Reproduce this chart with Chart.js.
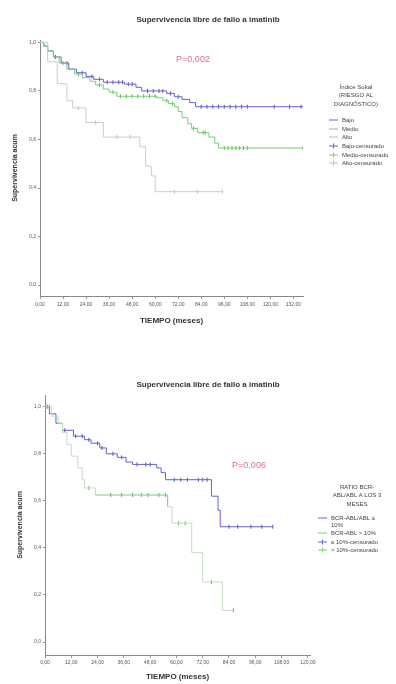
<!DOCTYPE html>
<html>
<head>
<meta charset="utf-8">
<script src="https://cdn.jsdelivr.net/npm/chart.js@4"></script>
<style>
  body { margin: 0; background: #fff; width: 396px; height: 684px; overflow: hidden; }
  .box { position: absolute; left: 0; width: 396px; }
</style>
</head>
<body>
<div class="box" style="top:0;height:340px"><canvas id="km1"></canvas></div>
<div class="box" style="top:340px;height:344px"><canvas id="km2"></canvas></div>
<script>
// 共通の目盛り
const y_ticks = [0, 0.2, 0.4, 0.6, 0.8, 1.0];
const y_labels = ['0,0', '0,2', '0,4', '0,6', '0,8', '1,0'];

// 上のグラフ (Sokal)
const top_x_ticks = [0, 12, 24, 36, 48, 60, 72, 84, 96, 108, 120, 132];
const top_x_labels = ['0,00', '12,00', '24,00', '36,00', '48,00', '60,00', '72,00', '84,00', '96,00', '108,00', '120,00', '132,00'];

const bajo_t = [0, 2, 4, 7, 11, 15, 19, 24, 28, 33, 44, 50, 53, 66, 70, 74, 78, 81, 137];
const bajo_s = [1.0, 0.985, 0.965, 0.94, 0.915, 0.89, 0.875, 0.86, 0.848, 0.836, 0.828, 0.815, 0.80, 0.79, 0.776, 0.765, 0.752, 0.735, 0.735];
const bajo_cens = [8, 14, 22, 27, 31, 35, 38, 41, 43, 46, 48, 56, 59, 62, 64, 68, 72, 84, 87, 90, 93, 96, 99, 102, 105, 108, 122, 130, 136];

const medio_t = [0, 2, 4, 7, 10, 14, 18, 22, 26, 29, 33, 36, 40, 61, 64, 67, 70, 72, 74, 77, 79, 82, 88, 91, 93, 137];
const medio_s = [1.0, 0.985, 0.965, 0.94, 0.915, 0.89, 0.87, 0.855, 0.84, 0.825, 0.808, 0.795, 0.778, 0.772, 0.76, 0.748, 0.735, 0.715, 0.69, 0.665, 0.645, 0.628, 0.61, 0.585, 0.565, 0.565];
const medio_cens = [12, 20, 31, 38, 42, 45, 48, 51, 54, 57, 60, 66, 69, 80, 85, 86, 96, 98, 100, 102, 104, 106, 108, 137];

const alto_t = [0, 4, 9, 14, 17, 24, 33, 52, 55, 58, 60, 95];
const alto_s = [1.0, 0.92, 0.83, 0.76, 0.73, 0.67, 0.61, 0.57, 0.49, 0.45, 0.385, 0.385];
const alto_cens = [20, 29, 40, 47, 70, 82, 95];

// 下のグラフ (3か月時点の BCR-ABL/ABL)
const bot_x_ticks = [0, 12, 24, 36, 48, 60, 72, 84, 96, 108, 120];
const bot_x_labels = ['0,00', '12,00', '24,00', '36,00', '48,00', '60,00', '72,00', '84,00', '96,00', '108,00', '120,00'];

const bajo10_t = [0, 2, 5, 8, 13, 18, 21, 25, 28, 33, 37, 40, 51, 53, 55, 76, 79, 80, 104];
const bajo10_s = [1.0, 0.97, 0.93, 0.90, 0.875, 0.86, 0.845, 0.825, 0.80, 0.785, 0.765, 0.755, 0.74, 0.72, 0.69, 0.62, 0.56, 0.49, 0.49];
const bajo10_cens = [1, 9, 14, 17, 20, 24, 26, 31, 35, 42, 46, 48, 59, 62, 65, 70, 72, 74, 84, 88, 94, 99, 104];

const alto10_t = [0, 3, 6, 8, 10, 12, 15, 17, 18, 23, 56, 58, 67, 72, 81, 86];
const alto10_s = [1.0, 0.96, 0.93, 0.89, 0.84, 0.79, 0.74, 0.69, 0.655, 0.625, 0.575, 0.505, 0.38, 0.255, 0.135, 0.135];
const alto10_cens = [2, 20, 30, 35, 40, 44, 47, 52, 55, 61, 64, 76, 86];

// ある時点の生存率を階段関数から読む
function surv_at(ts, ss, t) {
    let v = ss[0];
    for (let i = 0; i < ts.length; i++) {
        if (ts[i] <= t) v = ss[i];
    }
    return v;
}

// 生存曲線 (階段)
function km_line(label, ts, ss, color, light, bright_from, bright_to) {
    return {
        label: label,
        data: ts.map((t, i) => ({ x: t, y: ss[i] })),
        borderColor: color,
        borderWidth: 1,
        stepped: true,
        pointRadius: 0,
        fill: false,
        segment: {
            borderColor: ctx => (ctx.p0.parsed.x < bright_from || ctx.p0.parsed.x >= bright_to) ? light : color
        }
    };
}

// 打ち切りの縦線
function km_cens(label, ts, ss, cens, color) {
    return {
        label: label,
        data: cens.map(t => ({ x: t, y: surv_at(ts, ss, t) })),
        showLine: false,
        pointStyle: 'line',
        rotation: 90,
        pointRadius: 2,
        borderColor: color,
        borderWidth: 1
    };
}

// タイトル・P値・凡例を描く
const text_plugin = {
    id: 'texts',
    afterDraw(chart, args, o) {
        const ctx = chart.ctx;
        ctx.save();
        ctx.textBaseline = 'middle';
        ctx.textAlign = 'center';
        ctx.fillStyle = '#333';
        ctx.font = 'bold 8px "Liberation Sans", Arial, sans-serif';
        ctx.fillText(o.title, o.title_x, o.title_y);

        ctx.fillStyle = '#d8709c';
        ctx.font = '9px "Liberation Sans", Arial, sans-serif';
        ctx.fillText(o.p_text, o.p_x, o.p_y);

        ctx.fillStyle = '#444';
        ctx.font = '6px "Liberation Sans", Arial, sans-serif';
        o.header.forEach((line, i) => ctx.fillText(line, o.header_x, o.header_y + i * 8.5));

        ctx.textAlign = 'left';
        o.items.forEach(it => {
            ctx.strokeStyle = it.color;
            ctx.lineWidth = 1;
            ctx.beginPath();
            ctx.moveTo(o.sample_x, it.y);
            ctx.lineTo(o.sample_x + 9, it.y);
            if (it.cens) {
                ctx.moveTo(o.sample_x + 4.5, it.y - 2.5);
                ctx.lineTo(o.sample_x + 4.5, it.y + 2.5);
            }
            ctx.stroke();
            it.text.forEach((line, i) => ctx.fillText(line, o.sample_x + 13, it.y + i * 7.5));
        });
        ctx.restore();
    }
};

function make_chart(id, c) {
    return new Chart(document.getElementById(id), {
        type: 'line',
        data: { datasets: c.datasets },
        options: {
            responsive: true,
            maintainAspectRatio: false,
            animation: false,
            layout: { padding: { top: c.area_top, right: c.pad_right, left: 0, bottom: 0 } },
            plugins: {
                legend: { display: false },
                tooltip: { enabled: false },
                texts: c.texts
            },
            scales: {
                x: {
                    type: 'linear',
                    min: 0,
                    max: c.x_max,
                    afterBuildTicks: axis => { axis.ticks = c.x_ticks.map(v => ({ value: v })); },
                    afterFit: s => { s.height = c.x_height; },
                    ticks: {
                        autoSkip: false,
                        maxRotation: 0,
                        padding: c.x_tick_pad,
                        color: '#555',
                        font: { size: 5, family: '"Liberation Sans", Arial, sans-serif' },
                        callback: v => c.x_labels[c.x_ticks.indexOf(v)]
                    },
                    grid: { drawOnChartArea: false, drawTicks: true, tickLength: 3, color: '#999' },
                    border: { display: true, color: '#888', width: 1 },
                    title: {
                        display: true,
                        text: 'TIEMPO (meses)',
                        color: '#333',
                        font: { size: 8, weight: 'bold', family: '"Liberation Sans", Arial, sans-serif' },
                        padding: { top: 0, bottom: c.x_title_pad }
                    }
                },
                y: {
                    min: c.y_min,
                    max: c.y_max,
                    afterBuildTicks: axis => { axis.ticks = y_ticks.map(v => ({ value: v })); },
                    afterFit: s => { s.width = c.y_width; },
                    ticks: {
                        padding: 2,
                        color: '#555',
                        font: { size: 5, family: '"Liberation Sans", Arial, sans-serif' },
                        callback: v => y_labels[y_ticks.indexOf(v)]
                    },
                    grid: { drawOnChartArea: false, drawTicks: true, tickLength: 2, color: '#999' },
                    border: { display: true, color: '#888', width: 1 },
                    title: {
                        display: true,
                        text: 'Supervivencia acum',
                        color: '#333',
                        font: { size: 7, weight: 'bold', family: '"Liberation Sans", Arial, sans-serif' },
                        padding: { top: c.y_title_pad, bottom: 0 }
                    }
                }
            }
        },
        plugins: [text_plugin]
    });
}

const BLUE = '#6262d0', BLUE_C = '#5656c0', BLUE_L = '#c4c4e4';
const GREEN = '#7ccc74', GREEN_C = '#5cb456', GREEN_L = '#c4dcc2';
const GRAY = '#cccccc', GRAY_C = '#bcbcbc';

make_chart('km1', {
    datasets: [
        km_line('Alto', alto_t, alto_s, GRAY, GRAY, 0, 999),
        km_line('Medio', medio_t, medio_s, GREEN, GREEN_L, 0, 108),
        km_line('Bajo', bajo_t, bajo_s, BLUE, BLUE_L, 0, 108),
        km_cens('Alto-censurado', alto_t, alto_s, alto_cens, GRAY_C),
        km_cens('Medio-censurado', medio_t, medio_s, medio_cens, GREEN_C),
        km_cens('Bajo-censurado', bajo_t, bajo_s, bajo_cens, BLUE_C)
    ],
    x_max: 137, x_ticks: top_x_ticks, x_labels: top_x_labels,
    y_min: -0.045, y_max: 1.01,
    area_top: 40, pad_right: 93, x_height: 44, y_width: 40,
    x_tick_pad: 3, x_title_pad: 14, y_title_pad: 11,
    texts: {
        title: 'Supervivencia libre de fallo a imatinib', title_x: 208, title_y: 20,
        p_text: 'P=0,002', p_x: 193, p_y: 60,
        header: ['Índice Sokal', '(RIESGO AL', 'DIAGNÓSTICO)'], header_x: 356, header_y: 87,
        sample_x: 329,
        items: [
            { text: ['Bajo'], color: BLUE, y: 120 },
            { text: ['Medio'], color: GREEN, y: 129 },
            { text: ['Alto'], color: GRAY_C, y: 137 },
            { text: ['Bajo-censurado'], color: BLUE, cens: true, y: 146 },
            { text: ['Medio-censurado'], color: GREEN, cens: true, y: 155 },
            { text: ['Alto-censurado'], color: GRAY_C, cens: true, y: 163 }
        ]
    }
});

make_chart('km2', {
    datasets: [
        km_line('> 10%', alto10_t, alto10_s, GREEN, GREEN_L, 23, 56),
        km_line('≤ 10%', bajo10_t, bajo10_s, BLUE, BLUE, 0, 999),
        km_cens('> 10%-censurado', alto10_t, alto10_s, alto10_cens, GREEN_C),
        km_cens('≤ 10%-censurado', bajo10_t, bajo10_s, bajo10_cens, BLUE_C)
    ],
    x_max: 121, x_ticks: bot_x_ticks, x_labels: bot_x_labels,
    y_min: -0.055, y_max: 1.05,
    area_top: 55, pad_right: 86, x_height: 29, y_width: 45,
    x_tick_pad: 2, x_title_pad: 2, y_title_pad: 16,
    texts: {
        title: 'Supervivencia libre de fallo a imatinib', title_x: 208, title_y: 45,
        p_text: 'P=0,006', p_x: 249, p_y: 126,
        header: ['RATIO BCR-', 'ABL/ABL A LOS 3', 'MESES'], header_x: 357, header_y: 147,
        sample_x: 318,
        items: [
            { text: ['BCR-ABL/ABL ≤', '10%'], color: BLUE, y: 178 },
            { text: ['BCR-ABL > 10%'], color: GREEN, y: 193 },
            { text: ['≤ 10%-censurado'], color: BLUE, cens: true, y: 202 },
            { text: ['> 10%-censurado'], color: GREEN, cens: true, y: 210 }
        ]
    }
});
</script>
</body>
</html>
